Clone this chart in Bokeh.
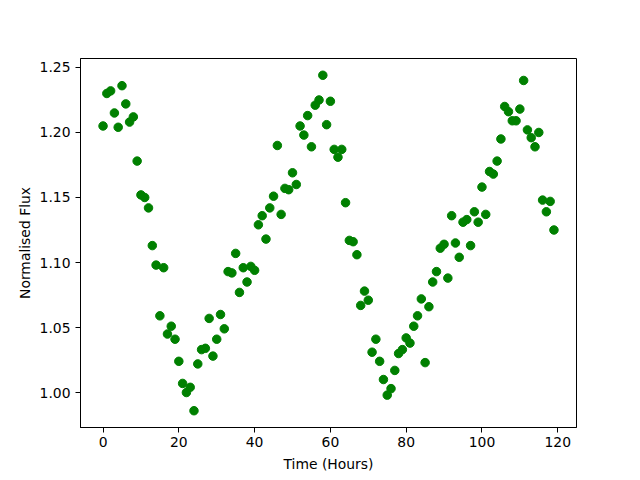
from bokeh.plotting import figure
from bokeh.models import FixedTicker, PrintfTickFormatter, Range1d
from bokeh.embed import file_html
from bokeh.resources import INLINE

hours = list(range(120))
flux = [
    1.205, 1.230, 1.232, 1.215, 1.204, 1.236, 1.222, 1.208, 1.212, 1.178,
    1.152, 1.150, 1.142, 1.113, 1.098, 1.059, 1.096, 1.045, 1.051, 1.041,
    1.024, 1.007, 1.000, 1.004, 0.986, 1.022, 1.033, 1.034, 1.057, 1.028,
    1.041, 1.060, 1.049, 1.093, 1.092, 1.107, 1.077, 1.096, 1.085, 1.097,
    1.094, 1.129, 1.136, 1.118, 1.142, 1.151, 1.190, 1.137, 1.157, 1.156,
    1.169, 1.160, 1.205, 1.198, 1.213, 1.189, 1.221, 1.225, 1.244, 1.206,
    1.224, 1.187, 1.181, 1.187, 1.146, 1.117, 1.116, 1.106, 1.067, 1.078,
    1.071, 1.031, 1.041, 1.024, 1.010, 0.998, 1.003, 1.017, 1.030, 1.033,
    1.042, 1.038, 1.051, 1.059, 1.072, 1.023, 1.066, 1.085, 1.093, 1.111,
    1.114, 1.088, 1.136, 1.115, 1.104, 1.131, 1.133, 1.113, 1.139, 1.131,
    1.158, 1.137, 1.170, 1.168, 1.178, 1.195, 1.220, 1.216, 1.209, 1.209,
    1.218, 1.240, 1.202, 1.196, 1.189, 1.200, 1.148, 1.139, 1.147, 1.125,
]
x_ticks = [0, 20, 40, 60, 80, 100, 120]
y_ticks = [1.00, 1.05, 1.10, 1.15, 1.20, 1.25]

xpad = 0.05 * (max(hours) - min(hours))
ypad = 0.05 * (max(flux) - min(flux))

p = figure(
    output_backend="svg", toolbar_location=None,
    frame_width=496, frame_height=369,
    min_border_left=80, min_border_right=48, min_border_top=58, min_border_bottom=45,
    x_range=Range1d(min(hours) - xpad, max(hours) + xpad),
    y_range=Range1d(min(flux) - ypad, max(flux) + ypad),
)
p.scatter(hours, flux, size=8.5, color="#008000", line_color="#008000")

p.grid.visible = False
p.outline_line_color = "black"
p.outline_line_width = 1
p.outline_line_alpha = 1

for ax in (p.xaxis[0], p.yaxis[0]):
    ax.major_tick_out = 5
    ax.major_tick_in = 0
    ax.minor_tick_out = 0
    ax.minor_tick_in = 0
    ax.axis_line_color = "black"
    ax.major_tick_line_color = "black"
    ax.major_label_text_font = "DejaVu Sans"
    ax.major_label_text_font_size = "13.9px"
    ax.major_label_text_color = "black"
    ax.axis_label_text_font = "DejaVu Sans"
    ax.axis_label_text_font_size = "13.9px"
    ax.axis_label_text_font_style = "normal"
    ax.axis_label_text_color = "black"

p.xaxis.ticker = FixedTicker(ticks=x_ticks)
p.yaxis.ticker = FixedTicker(ticks=y_ticks)
p.yaxis.formatter = PrintfTickFormatter(format="%.2f")
p.xaxis.axis_label = "Time (Hours)"
p.yaxis.axis_label = "Normalised Flux"
p.xaxis.major_label_standoff = 4
p.yaxis.major_label_standoff = 5
p.xaxis.axis_label_standoff = 6
p.yaxis.axis_label_standoff = 4

open("out.html", "w").write(file_html(p, INLINE))
